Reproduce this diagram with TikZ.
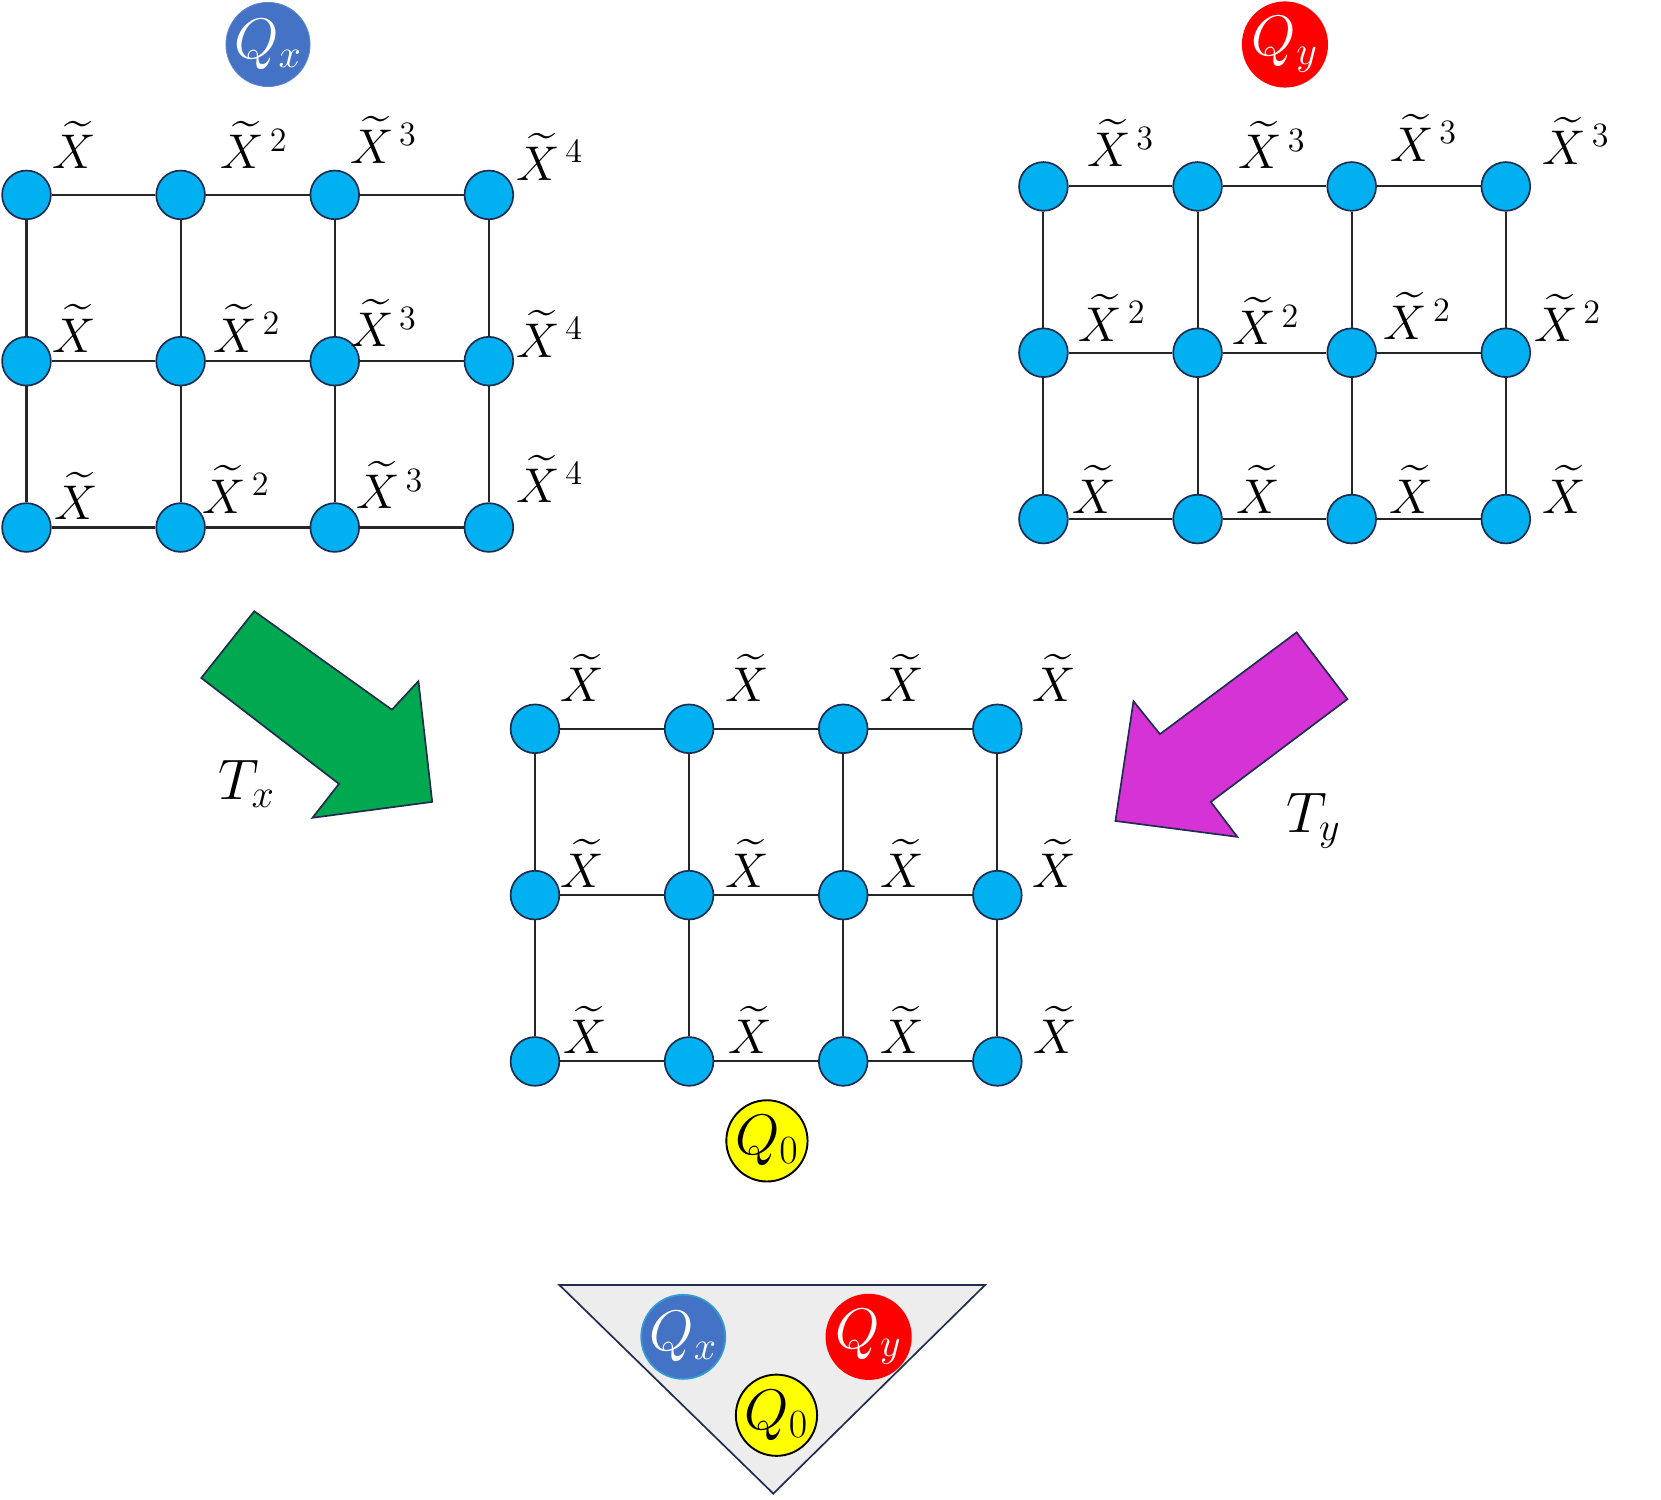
\documentclass[tikz,border=0pt]{standalone}
\usepackage{fix-cm}
\usepackage{amsmath, amssymb}
\usepackage{tikz}
\usetikzlibrary{positioning}

\definecolor{sitecol}{HTML}{00B0F0}
\definecolor{rimcol}{HTML}{1F2D4F}
\definecolor{qxcol}{HTML}{4472C4}
\definecolor{qycol}{HTML}{FF0000}
\definecolor{qzcol}{HTML}{FFFF00}
\definecolor{txcol}{HTML}{00A84F}
\definecolor{tycol}{HTML}{D633D6}
\definecolor{basecol}{HTML}{EDEDED}

\newcommand{\Xt}{\widetilde{X}}
\newcommand{\Xp}[1]{\widetilde{X}^{\,#1}}

\begin{document}
\begin{tikzpicture}[
  x=0.5pt, y=-0.5pt,
  site/.style={circle, draw=rimcol, line width=0.8pt, fill=sitecol,
               minimum size=23pt, inner sep=0pt},
  bond/.style={line width=1pt, black!85},
  lbl/.style={font=\fontsize{23}{27}\selectfont, inner sep=0pt},
  charge/.style={circle, inner sep=0pt, minimum size=37pt,
                 font=\fontsize{27}{31}\selectfont},
  bigarrow/.style={draw=rimcol, line width=0.8pt, line join=miter},
]
\useasboundingbox (0,0) rectangle (1568,1416);

% three lattices: Qx (left), Qy (right), Q0 (middle)
\foreach \g/\ox/\oy in {qx/25/184, qy/985/176, qo/505/688}{
  \foreach \r in {0,1,2}{
    \foreach \c in {0,1,2,3}{
      \node[site] (\g-\r-\c) at ({\ox+145.5*\c},{\oy+157*\r}) {};
    }
  }
  \foreach \r in {0,1,2}{
    \foreach \c/\n in {0/1,1/2,2/3}{
      \draw[bond] (\g-\r-\c) -- (\g-\r-\n);
    }
  }
  \foreach \c in {0,1,2,3}{
    \foreach \r/\n in {0/1,1/2}{
      \draw[bond] (\g-\r-\c) -- (\g-\n-\c);
    }
  }
}

% labels on the sites
\foreach \x/\y/\t [count=\i] in {
  70/137/\Xt, 240/137/\Xp{2}, 362/132/\Xp{3}, 519/148/\Xp{4},
  70/310/\Xt, 233/310/\Xp{2}, 362/305/\Xp{3}, 519/315/\Xp{4},
  72/468/\Xt, 223/462/\Xp{2}, 368/458/\Xp{3}, 519/452/\Xp{4}}
  \node[lbl] (qx-lbl-\i) at (\x,\y) {$\t$};

\foreach \x/\y/\t [count=\i] in {
  1058/135/\Xp{3}, 1201/137/\Xp{3}, 1344/130/\Xp{3}, 1488/133/\Xp{3},
  1050/300/\Xp{2}, 1195/303/\Xp{2}, 1338/298/\Xp{2}, 1480/300/\Xp{2},
  1033/462/\Xt, 1188/462/\Xt, 1332/462/\Xt, 1477/462/\Xt}
  \node[lbl] (qy-lbl-\i) at (\x,\y) {$\t$};

\foreach \x/\y [count=\i] in {
  550/640, 705/640, 852/640, 995/640,
  550/815, 705/815, 852/815, 995/815,
  552/972, 708/972, 852/972, 996/972}
  \node[lbl] (qo-lbl-\i) at (\x,\y) {$\Xt$};

% charges
\node[charge, fill=qxcol, draw=qxcol!85!white, text=white] (qxTop) at (253,42) {$Q_x$};
\node[charge, fill=qycol, text=white] (qyTop) at (1213,42) {$Q_y$};
\node[charge, fill=qzcol, draw=black, line width=0.9pt] (qoMid) at (724,1077) {$Q_0$};

% T_x and T_y arrows
\draw[bigarrow, fill=txcol] (240,577) -- (370,670) -- (395,643) -- (408,757)
  -- (295,772) -- (320,740) -- (190,640) -- cycle;
\node[charge, minimum size=0pt] (tx) at (233,740) {$T_x$};

\draw[bigarrow, fill=tycol] (1224,597) -- (1272,660) -- (1143,757) -- (1168,790)
  -- (1053,775) -- (1070,662) -- (1095,693) -- cycle;
\node[charge, minimum size=0pt] (ty) at (1240,775) {$T_y$};

% triangle with the three charges
\draw[bigarrow, fill=basecol] (528,1213) -- (930,1213) -- (730,1410) -- cycle;
\node[charge, fill=qxcol, draw=qxcol!70!cyan, line width=0.8pt, text=white] (qxBot) at (645,1262) {$Q_x$};
\node[charge, fill=qycol, text=white] (qyBot) at (820,1262) {$Q_y$};
\node[charge, fill=qzcol, draw=black, line width=0.9pt] (qoBot) at (733,1336) {$Q_0$};
\end{tikzpicture}
\end{document}
